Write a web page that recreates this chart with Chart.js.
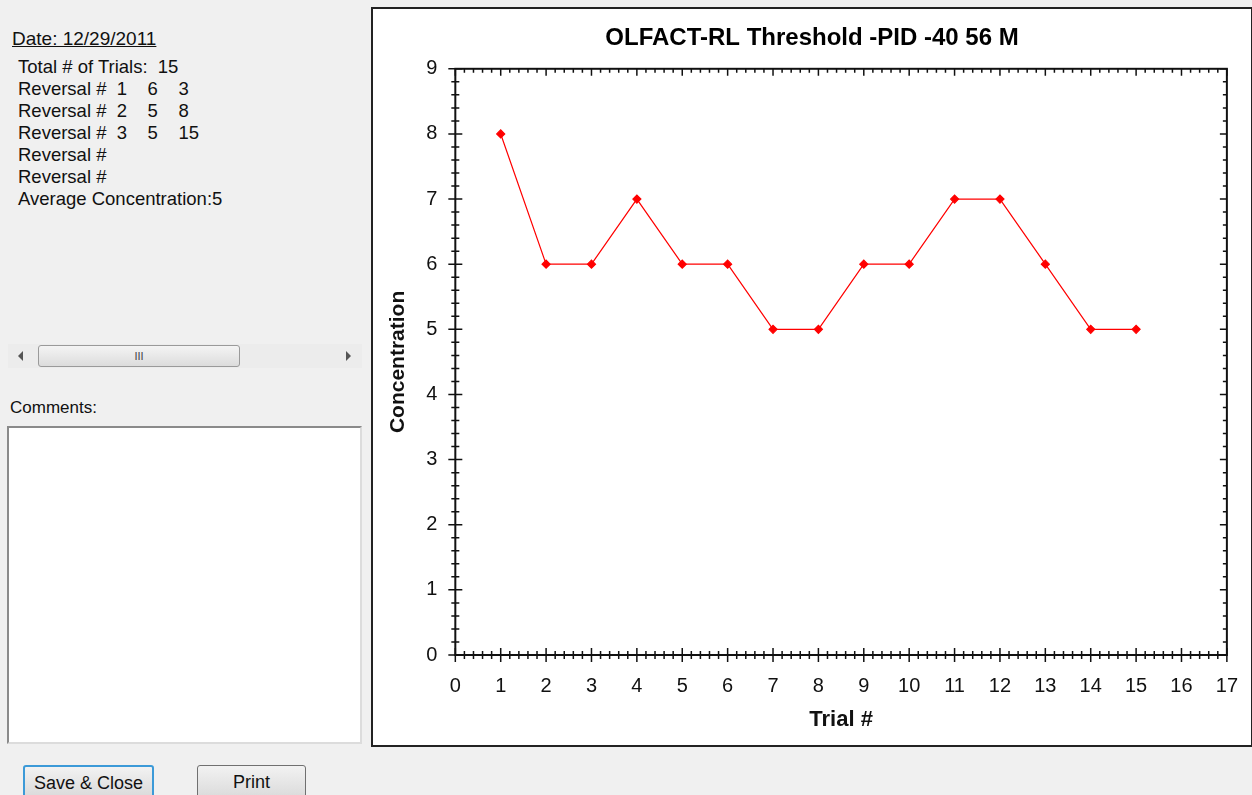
<!DOCTYPE html>
<html>
<head>
<meta charset="utf-8">
<script src="https://cdn.jsdelivr.net/npm/chart.js@4"></script>
<style>
  body { margin: 0; width: 1252px; height: 795px; background: #f0f0f0; overflow: hidden; position: relative; font-family: "Liberation Sans", Arial, sans-serif; color: #111; }
  .info { position: absolute; left: 18px; top: 56px; font-size: 18.5px; line-height: 22px; white-space: pre; }
  .date { position: absolute; left: 12px; top: 28px; font-size: 19px; text-decoration: underline; }
  .scroll { position: absolute; left: 8px; top: 344px; width: 354px; height: 24px; background: #ececec; }
  .scroll .thumb { position: absolute; left: 30px; top: 1px; width: 200px; height: 20px; border: 1px solid #9a9a9a; border-radius: 3px; background: linear-gradient(#f4f4f4, #dcdcdc); font-size: 11px; text-align: center; line-height: 20px; color: #444; }
  .arrow { position: absolute; top: 7px; width: 0; height: 0; border-top: 5px solid transparent; border-bottom: 5px solid transparent; }
  .arrow.l { left: 10px; border-right: 5px solid #555; }
  .arrow.r { left: 338px; border-left: 5px solid #555; }
  .comments { position: absolute; left: 10px; top: 398px; font-size: 17px; }
  .textbox { position: absolute; left: 7px; top: 426px; width: 351px; height: 314px; background: #fff; border: 2px solid #8a8a8a; border-right-color: #dcdcdc; border-bottom-color: #dcdcdc; }
  .btn { position: absolute; top: 765px; height: 34px; border: 1px solid #707070; border-radius: 3px; background: linear-gradient(#f2f2f2, #dadada); font-size: 18px; text-align: center; line-height: 32px; box-sizing: border-box; }
  .btn.save { left: 23px; width: 131px; border: 2px solid #3c9ad8; }
  .btn.print { left: 197px; width: 109px; }
  .panel { position: absolute; left: 371px; top: 7px; width: 878px; height: 736px; background: #fff; border: 2px solid #222; }
</style>
</head>
<body>
<div class="date">Date: 12/29/2011</div>
<div class="info">Total # of Trials:  15
Reversal #  1    6    3
Reversal #  2    5    8
Reversal #  3    5    15
Reversal #
Reversal #
Average Concentration:5</div>
<div class="scroll"><div class="arrow l"></div><div class="thumb">III</div><div class="arrow r"></div></div>
<div class="comments">Comments:</div>
<div class="textbox"></div>
<div class="btn save">Save &amp; Close</div>
<div class="btn print">Print</div>
<div class="panel"><canvas id="myChart" width="878" height="736"></canvas></div>
<script>
var trials = [1, 2, 3, 4, 5, 6, 7, 8, 9, 10, 11, 12, 13, 14, 15];
var concentration = [8, 6, 6, 7, 6, 6, 5, 5, 6, 6, 7, 7, 6, 5, 5];
var xMin = 0, xMax = 17;
var yMin = 0, yMax = 9;

// minor/major ticks on all four sides of the plot box
var frameTicks = {
  id: "frameTicks",
  afterDraw: function (chart) {
    var c = chart.ctx, a = chart.chartArea;
    var xs = chart.scales.x, ys = chart.scales.y;
    c.save();
    c.strokeStyle = "#111";
    c.lineWidth = 2;
    c.strokeRect(a.left, a.top, a.right - a.left, a.bottom - a.top);
    c.lineWidth = 1.5;
    c.beginPath();
    for (var i = xMin * 5; i <= xMax * 5; i++) {
      var px = xs.getPixelForValue(i / 5);
      var major = i % 5 === 0;
      var len = major ? 7 : 4;
      c.moveTo(px, a.bottom - len); c.lineTo(px, a.bottom + len);
      c.moveTo(px, a.top); c.lineTo(px, a.top + len);
    }
    for (var j = yMin * 5; j <= yMax * 5; j++) {
      var py = ys.getPixelForValue(j / 5);
      var maj = j % 5 === 0;
      var l = maj ? 7 : 4;
      c.moveTo(a.left - l, py); c.lineTo(a.left + l, py);
      c.moveTo(a.right, py); c.lineTo(a.right - l, py);
    }
    c.stroke();
    c.restore();
  }
};

var ctx = document.getElementById("myChart").getContext("2d");
var myChart = new Chart(ctx, {
  type: "line",
  data: {
    datasets: [
      {
        data: trials.map(function (t, i) { return { x: t, y: concentration[i] }; }),
        borderColor: "#ff0000",
        backgroundColor: "#ff0000",
        borderWidth: 1.2,
        pointStyle: "rectRot",
        pointRadius: 4,
        tension: 0,
      },
    ],
  },
  options: {
    responsive: false,
    animation: false,
    layout: { padding: { left: 9, right: 9, top: 0, bottom: 10 } },
    plugins: {
      legend: { display: false },
      tooltip: { enabled: false },
      title: {
        display: true,
        text: "OLFACT-RL Threshold -PID -40 56 M",
        color: "#000",
        font: { family: "Liberation Sans", size: 24, weight: "bold" },
        padding: { top: 15, bottom: 16 },
      },
    },
    scales: {
      x: {
        type: "linear",
        min: xMin,
        max: xMax,
        ticks: { stepSize: 1, color: "#111", padding: 13, font: { family: "Liberation Sans", size: 20, lineHeight: 1 } },
        grid: { display: true, drawOnChartArea: false, color: "transparent", tickLength: 8 },
        border: { display: false },
        title: { display: true, text: "Trial #", color: "#111", font: { family: "Liberation Sans", size: 22, weight: "bold", lineHeight: 1 }, padding: { top: 0 } },
      },
      y: {
        min: yMin,
        max: yMax,
        ticks: { stepSize: 1, color: "#111", padding: 10, font: { family: "Liberation Sans", size: 20 } },
        grid: { display: true, drawOnChartArea: false, color: "transparent", tickLength: 8 },
        border: { display: false },
        title: { display: true, text: "Concentration", color: "#111", font: { family: "Liberation Sans", size: 21, weight: "bold" }, padding: { bottom: 5 } },
      },
      // empty right-hand axis, only to leave a gap on the right
      y2: {
        position: "right",
        min: yMin,
        max: yMax,
        ticks: { display: false },
        grid: { display: false },
        border: { display: false },
        afterFit: function (scale) { scale.width = 15; },
      },
    },
  },
  plugins: [frameTicks],
});
</script>
</body>
</html>
